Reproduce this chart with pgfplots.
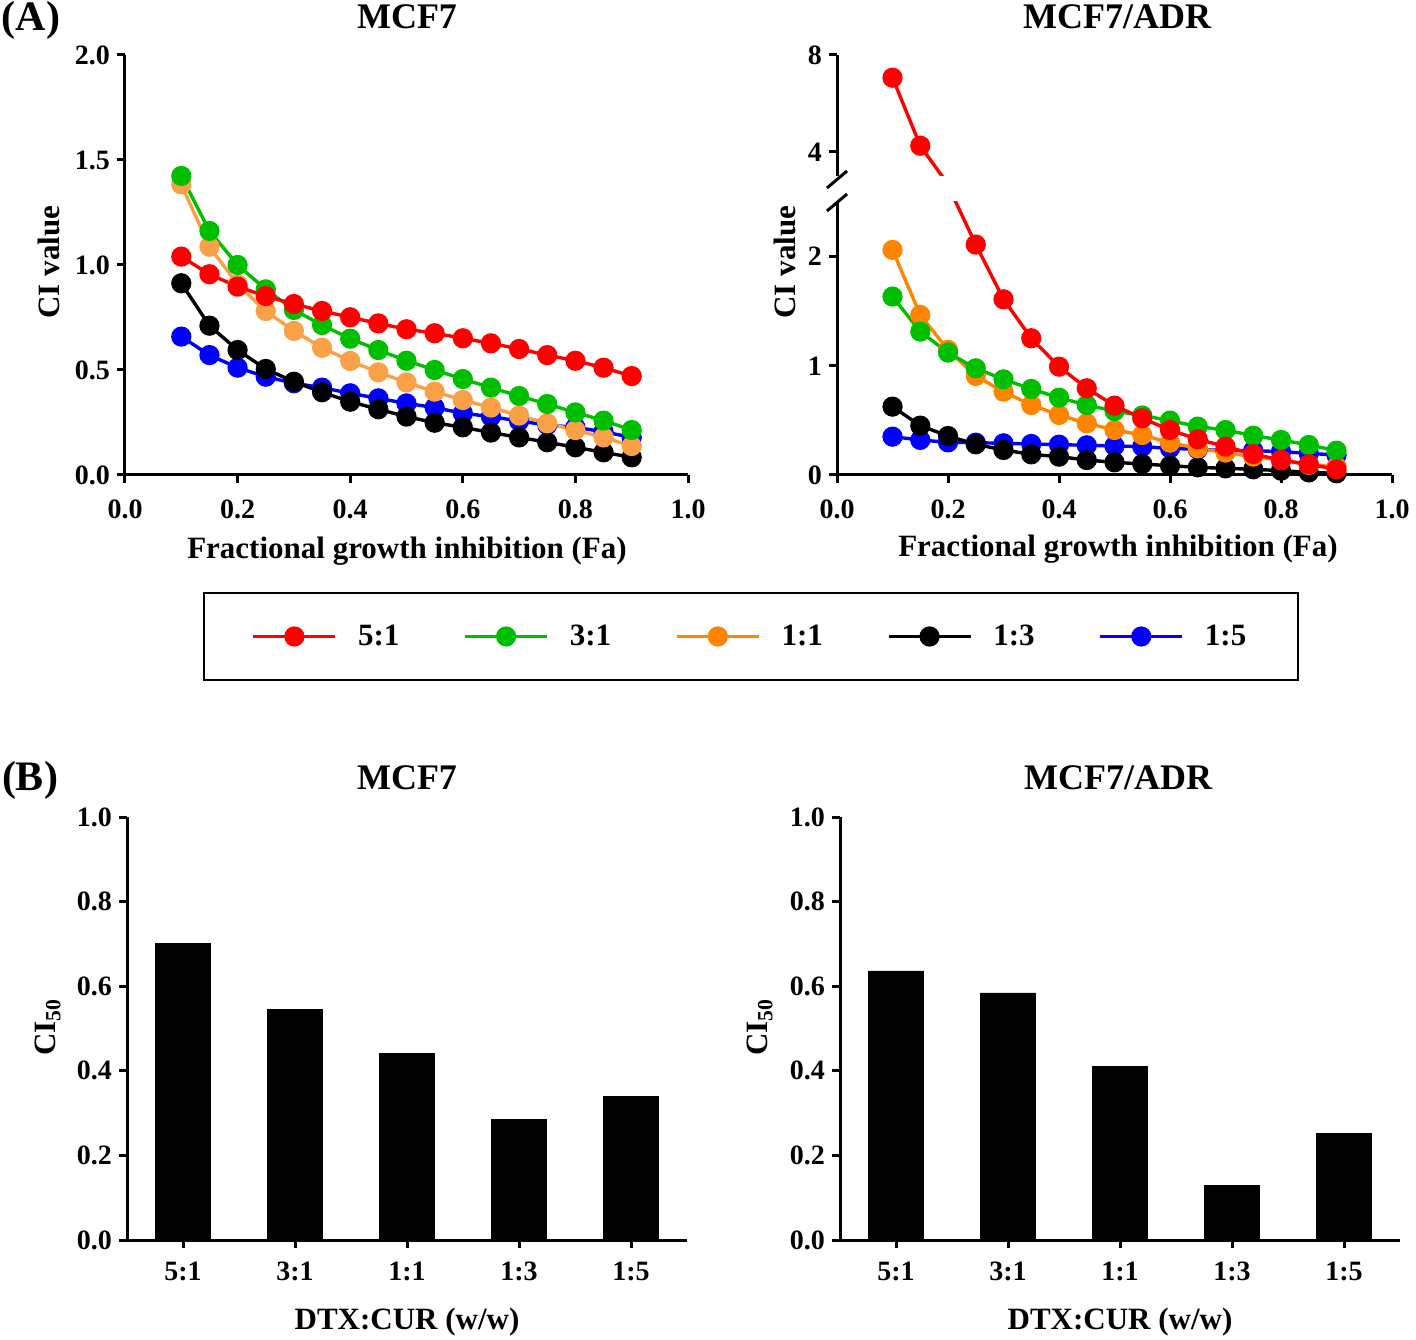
\documentclass[border=0pt]{standalone}
\usepackage{fontspec}
\setmainfont{Liberation Serif}
\usepackage{pgfplots}
\pgfplotsset{compat=1.18}
\definecolor{cred}{RGB}{255,0,0}
\definecolor{cgreen}{RGB}{0,190,0}
\definecolor{corangeL}{RGB}{250,160,70}
\definecolor{corange}{RGB}{255,132,0}
\definecolor{cblue}{RGB}{0,0,255}
\newcommand{\lbl}{\bfseries\fontsize{15.5}{16}\selectfont}
\newcommand{\ttl}{\bfseries\fontsize{18}{19}\selectfont}
\pgfplotsset{
  prism/.style={
    scale only axis, anchor=south west,
    axis lines*=left,
    axis line style={line width=1.5pt,-},
    tick style={line width=1.5pt,black},
    tick align=outside, major tick length=4pt,
    tick label style={font=\bfseries\fontsize{14}{14}\selectfont},
    /pgf/number format/assume math mode=true,
  },
  onedec/.style={/pgf/number format/.cd,fixed,fixed zerofill,precision=1},
  ser/.style={line width=1.7pt, mark=*, mark size=4.2pt, mark options={solid}},
}
\begin{document}
\begin{tikzpicture}
\path[use as bounding box] (0,0) rectangle (708pt,669.5pt);

% ---------- (A) MCF7 ----------
\begin{axis}[prism, at={(62.5pt,432pt)}, width=281.5pt, height=210pt,
  xmin=0, xmax=1, ymin=0, ymax=2, clip=false,
  xtick={0,0.2,0.4,0.6,0.8,1}, ytick={0,0.5,1,1.5,2},
  xticklabel style={yshift=-5pt, onedec}, yticklabel style={onedec},
  legend columns=5,
  legend image code/.code={\draw[mark repeat=2,mark phase=2] plot coordinates {(0pt,0pt) (20.5pt,0pt) (41pt,0pt)};},
  legend style={at={(axis description cs:1.1119,-0.3845)}, anchor=center,
    draw=black, line width=1pt, inner xsep=24pt, inner ysep=14pt,
    font=\lbl,
    /tikz/every even column/.append style={column sep=30pt},
    /tikz/every odd column/.append style={column sep=8.5pt}},
]
\addlegendimage{ser, cred}\addlegendentry{5:1}
\addlegendimage{ser, cgreen}\addlegendentry{3:1}
\addlegendimage{ser, corange}\addlegendentry{1:1}
\addlegendimage{ser, black}\addlegendentry{1:3}
\addlegendimage{ser, cblue}\addlegendentry{1:5}
\addplot[ser, cblue, forget plot] coordinates {(0.1,0.659)(0.15,0.571)(0.2,0.511)(0.25,0.468)(0.3,0.437)(0.35,0.416)(0.4,0.389)(0.45,0.365)(0.5,0.341)(0.55,0.321)(0.6,0.294)(0.65,0.278)(0.7,0.257)(0.75,0.238)(0.8,0.227)(0.85,0.206)(0.9,0.179)};
\addplot[ser, black, forget plot] coordinates {(0.1,0.913)(0.15,0.711)(0.2,0.595)(0.25,0.505)(0.3,0.444)(0.35,0.394)(0.4,0.349)(0.45,0.313)(0.5,0.278)(0.55,0.249)(0.6,0.227)(0.65,0.202)(0.7,0.179)(0.75,0.156)(0.8,0.132)(0.85,0.108)(0.9,0.084)};
\addplot[ser, corangeL, forget plot] coordinates {(0.1,1.384)(0.15,1.087)(0.2,0.908)(0.25,0.781)(0.3,0.686)(0.35,0.606)(0.4,0.543)(0.45,0.489)(0.5,0.441)(0.55,0.397)(0.6,0.357)(0.65,0.321)(0.7,0.283)(0.75,0.246)(0.8,0.214)(0.85,0.179)(0.9,0.138)};
\addplot[ser, cgreen, forget plot] coordinates {(0.1,1.424)(0.15,1.162)(0.2,1.000)(0.25,0.884)(0.3,0.786)(0.35,0.714)(0.4,0.649)(0.45,0.595)(0.5,0.544)(0.55,0.500)(0.6,0.457)(0.65,0.416)(0.7,0.376)(0.75,0.338)(0.8,0.298)(0.85,0.259)(0.9,0.214)};
\addplot[ser, cred, forget plot] coordinates {(0.1,1.040)(0.15,0.956)(0.2,0.897)(0.25,0.852)(0.3,0.814)(0.35,0.781)(0.4,0.751)(0.45,0.722)(0.5,0.694)(0.55,0.675)(0.6,0.651)(0.65,0.627)(0.7,0.600)(0.75,0.571)(0.8,0.544)(0.85,0.511)(0.9,0.471)};
\end{axis}

% ---------- (A) MCF7/ADR lower segment ----------
\begin{axis}[prism, at={(418.5pt,432pt)}, width=277.5pt, height=136.5pt,
  xmin=0, xmax=1, ymin=0, ymax=2.5, clip=false,
  xtick={0,0.2,0.4,0.6,0.8,1}, ytick={0,1,2},
  xticklabel style={yshift=-5pt, onedec},
]
\addplot[ser, cblue] coordinates {(0.1,0.351)(0.15,0.321)(0.2,0.299)(0.25,0.296)(0.3,0.290)(0.35,0.284)(0.4,0.278)(0.45,0.272)(0.5,0.266)(0.55,0.260)(0.6,0.244)(0.65,0.235)(0.7,0.223)(0.75,0.223)(0.8,0.214)(0.85,0.198)(0.9,0.183)};
\addplot[ser, black] coordinates {(0.1,0.626)(0.15,0.452)(0.2,0.357)(0.25,0.281)(0.3,0.229)(0.35,0.189)(0.4,0.168)(0.45,0.137)(0.5,0.116)(0.55,0.101)(0.6,0.085)(0.65,0.070)(0.7,0.061)(0.75,0.052)(0.8,0.040)(0.85,0.024)(0.9,0.015)};
\addplot[ser, corange] coordinates {(0.1,2.061)(0.15,1.466)(0.2,1.145)(0.25,0.907)(0.3,0.763)(0.35,0.641)(0.4,0.550)(0.45,0.473)(0.5,0.412)(0.55,0.366)(0.6,0.296)(0.65,0.244)(0.7,0.205)(0.75,0.168)(0.8,0.137)(0.85,0.092)(0.9,0.076)};
\addplot[ser, cgreen] coordinates {(0.1,1.634)(0.15,1.313)(0.2,1.121)(0.25,0.977)(0.3,0.876)(0.35,0.788)(0.4,0.708)(0.45,0.641)(0.5,0.585)(0.55,0.545)(0.6,0.498)(0.65,0.443)(0.7,0.412)(0.75,0.360)(0.8,0.321)(0.85,0.275)(0.9,0.223)};
\end{axis}
% red series, lower segment (clipped at the break)
\begin{axis}[scale only axis, anchor=south west, hide axis, at={(418.5pt,426.54pt)}, width=277.5pt, height=141.96pt,
  xmin=0, xmax=1, ymin=-0.1, ymax=2.5, clip=true]
\addplot[ser, cred] coordinates {(0.1,7.06)(0.15,4.25)(0.2,2.65)(0.25,2.11)(0.3,1.609)(0.35,1.252)(0.4,0.992)(0.45,0.794)(0.5,0.635)(0.55,0.519)(0.6,0.412)(0.65,0.327)(0.7,0.260)(0.75,0.192)(0.8,0.137)(0.85,0.098)(0.9,0.052)};
\end{axis}
% upper segment
\begin{axis}[prism, at={(418.5pt,581.5pt)}, width=277.5pt, height=60.5pt,
  axis x line=none, axis y line*=left,
  xmin=0, xmax=1, ymin=3, ymax=8, clip=true, ytick={4,8}]
\addplot[ser, cred] coordinates {(0.1,7.06)(0.15,4.25)(0.2,2.65)(0.25,2.11)(0.3,1.609)(0.35,1.252)(0.4,0.992)(0.45,0.794)(0.5,0.635)(0.55,0.519)(0.6,0.412)(0.65,0.327)(0.7,0.260)(0.75,0.192)(0.8,0.137)(0.85,0.098)(0.9,0.052)};
\end{axis}
% break marks
\draw[line width=1.5pt] (413.5pt,575.5pt) -- (423.5pt,584pt);
\draw[line width=1.5pt] (413.5pt,564pt) -- (423.5pt,572.5pt);

% ---------- (B) MCF7 ----------
\begin{axis}[prism, at={(63.5pt,49.5pt)}, width=280pt, height=211.5pt,
  xmin=0.5, xmax=5.5, ymin=0, ymax=1,
  xtick={1,2,3,4,5}, xticklabels={5:1,3:1,1:1,1:3,1:5},
  xticklabel style={yshift=-3.5pt},
  ytick={0,0.2,0.4,0.6,0.8,1}, yticklabel style={onedec}]
\addplot[ybar, bar width=27.5pt, fill=black, draw=black] coordinates {(1,0.702)(2,0.546)(3,0.442)(4,0.286)(5,0.340)};
\end{axis}

% ---------- (B) MCF7/ADR ----------
\begin{axis}[prism, at={(420pt,49.5pt)}, width=280pt, height=211.5pt,
  xmin=0.5, xmax=5.5, ymin=0, ymax=1,
  xtick={1,2,3,4,5}, xticklabels={5:1,3:1,1:1,1:3,1:5},
  xticklabel style={yshift=-3.5pt},
  ytick={0,0.2,0.4,0.6,0.8,1}, yticklabel style={onedec}]
\addplot[ybar, bar width=27.5pt, fill=black, draw=black] coordinates {(1,0.636)(2,0.584)(3,0.411)(4,0.130)(5,0.251)};
\end{axis}

% ---------- texts ----------
\node[font=\bfseries\fontsize{21}{22}\selectfont] at (15.5pt,659.5pt) {(A)};
\node[font=\bfseries\fontsize{21}{22}\selectfont] at (15pt,279.5pt) {(B)};
\node[font=\ttl] at (203.5pt,661pt) {MCF7};
\node[font=\ttl] at (558.5pt,661pt) {MCF7/ADR};
\node[font=\ttl] at (203.5pt,280.5pt) {MCF7};
\node[font=\ttl] at (559pt,280.5pt) {MCF7/ADR};
\node[font=\lbl, rotate=90] at (24.5pt,538.5pt) {CI value};
\node[font=\lbl, rotate=90] at (392.5pt,538.5pt) {CI value};
\node[font=\lbl] at (203.5pt,394pt) {Fractional growth inhibition (Fa)};
\node[font=\lbl] at (559pt,395pt) {Fractional growth inhibition (Fa)};
\node[font=\lbl, rotate=90] at (24pt,156pt) {CI\textsubscript{50}};
\node[font=\lbl, rotate=90] at (380pt,156pt) {CI\textsubscript{50}};
\node[font=\lbl] at (203.5pt,8.5pt) {DTX:CUR (w/w)};
\node[font=\lbl] at (560pt,8.5pt) {DTX:CUR (w/w)};
\end{tikzpicture}
\end{document}
